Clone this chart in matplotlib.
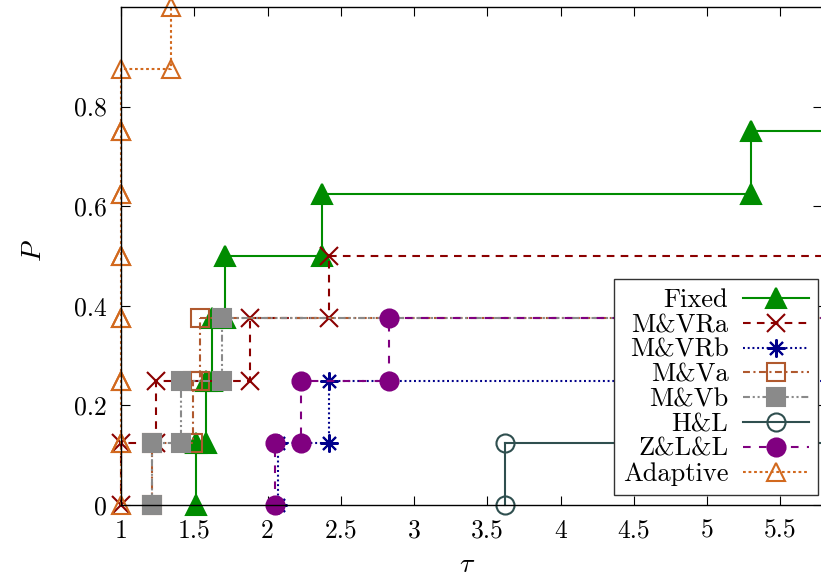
#!/usr/bin/env python3
"""Performance profile: fraction of problems P solved within ratio tau."""

import matplotlib
matplotlib.use("Agg")
import matplotlib.pyplot as plt
import numpy as np
from matplotlib.ticker import FixedLocator, FixedFormatter

N_PROBLEMS = 8
TAU_END = 6.0  # profiles run on past the visible window

solvers = ["Fixed", "M&VRa", "M&VRb", "M&Va", "M&Vb", "H&L", "Z&L&L", "Adaptive"]
fixed = [1.515, 1.58, 1.62, 1.71, 2.37, 5.30]
mvra = [1.0, 1.24, 1.88, 2.42]
mvrb = [2.07, 2.42]
mva = [1.21, 1.49, 1.54]
mvb = [1.21, 1.41, 1.69]
hl = [3.62]
zll = [2.05, 2.23, 2.83]
adaptive = [1.0, 1.0, 1.0, 1.0, 1.0, 1.0, 1.0, 1.34]
ratios = [fixed, mvra, mvrb, mva, mvb, hl, zll, adaptive]

x_ticks = [1, 1.5, 2, 2.5, 3, 3.5, 4, 4.5, 5, 5.5]
y_ticks = [0, 0.2, 0.4, 0.6, 0.8]

STYLE = {
    "Fixed":    dict(color="#008c00", dashes=None, marker="^", ms=14, mfc="#008c00"),
    "M&VRa":    dict(color="#8b0000", dashes=(5.5, 4.5), marker="x", ms=13, mfc="#8b0000"),
    "M&VRb":    dict(color="#00008b", dashes=(1.4, 2.0), marker=(8, 2, 0), ms=13, mfc="#00008b"),
    "M&Va":     dict(color="#b0592e", dashes=(5, 2.5, 1.5, 2.5), marker="s", ms=12.5, mfc="none"),
    "M&Vb":     dict(color="#8a8a8a", dashes=(5, 2, 1.5, 2, 1.5, 2), marker="s", ms=13.5, mfc="#8a8a8a"),
    "H&L":      dict(color="#2f4f4f", dashes=None, marker="o", ms=13, mfc="none"),
    "Z&L&L":    dict(color="#800080", dashes=(5.5, 6), marker="o", ms=13, mfc="#800080"),
    "Adaptive": dict(color="#d2691e", dashes=(2, 2), marker="^", ms=13, mfc="none"),
}

plt.rcParams["font.family"] = "serif"
plt.rcParams["font.serif"] = ["cmr10"]
plt.rcParams["mathtext.fontset"] = "cm"
plt.rcParams["lines.scale_dashes"] = False

fig = plt.figure(figsize=(8.21, 5.77), dpi=100)
ax = fig.add_axes([121 / 821, 72 / 577, 700.5 / 821, 498 / 577])
ax.set_xlim(1, 5.78)
ax.set_ylim(0, 1)

handles = []
for z, (name, r) in enumerate(zip(solvers, ratios)):
    st = STYLE[name]
    r = np.asarray(r)
    k = np.arange(len(r))
    xs = np.repeat(r, 2)
    ys = np.column_stack([k, k + 1]).ravel() / N_PROBLEMS
    ls = "-" if st["dashes"] is None else (0, st["dashes"])
    kw = dict(color=st["color"], lw=1.5, ls=ls, clip_on=False, zorder=3 + z)
    if ys[-1] < 1:  # a finished profile would just run along the top border
        ax.plot([xs[-1], TAU_END], [ys[-1], ys[-1]], **kw)
    h, = ax.plot(xs, ys, marker=st["marker"], ms=st["ms"], mfc=st["mfc"],
                 mec=st["color"], mew=1.5, label=name, **kw)
    handles.append(h)

ax.xaxis.set_major_locator(FixedLocator(x_ticks))
ax.xaxis.set_major_formatter(FixedFormatter([f"{v:g}" for v in x_ticks]))
ax.yaxis.set_major_locator(FixedLocator(y_ticks))
ax.yaxis.set_major_formatter(FixedFormatter([f"{v:g}" for v in y_ticks]))
ax.tick_params(direction="in", length=6.5, width=0.8, top=True, right=True,
               labelsize=18.5, pad=10)
for s in ax.spines.values():
    s.set_linewidth(1.0)
    s.set_zorder(12)

ax.set_xlabel(r"$\tau$", fontsize=20)
ax.xaxis.set_label_coords(0.494, -0.093)
ax.set_ylabel(r"$P$", fontsize=20)
ax.yaxis.set_label_coords(-0.105, 0.51)

leg = ax.legend(handles=handles, loc="lower right", markerfirst=False,
                bbox_to_anchor=(818 / 821, 82 / 577), bbox_transform=fig.transFigure,
                borderaxespad=0, fontsize=19, numpoints=1, handlelength=2.5,
                handletextpad=0.55, labelspacing=0.04, borderpad=0.35,
                fancybox=False, framealpha=1, edgecolor="#333333")
leg.get_frame().set_linewidth(1.0)
leg.set_zorder(20)

fig.savefig("out.png", dpi=100)
